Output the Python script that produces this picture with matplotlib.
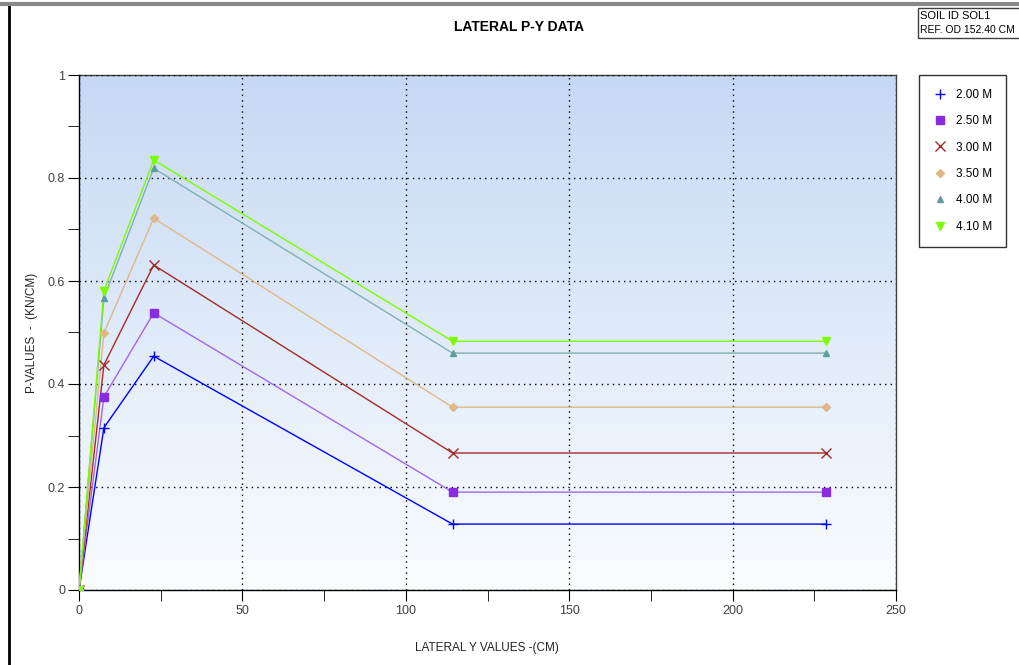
import numpy as np
import matplotlib
matplotlib.use("Agg")
import matplotlib.pyplot as plt
from matplotlib.lines import Line2D
from matplotlib.patches import Rectangle

plt.rcParams['font.family'] = ['Liberation Sans', 'DejaVu Sans']

# lateral displacement (cm) and p-values (kN/cm) per depth
y_cm = [0.0, 7.62, 22.86, 114.3, 228.6]
depths = ["2.00 M", "2.50 M", "3.00 M", "3.50 M", "4.00 M", "4.10 M"]
p_200 = [0.0, 0.315, 0.454, 0.128, 0.128]
p_250 = [0.0, 0.375, 0.538, 0.190, 0.190]
p_300 = [0.0, 0.437, 0.631, 0.266, 0.266]
p_350 = [0.0, 0.499, 0.722, 0.355, 0.355]
p_400 = [0.0, 0.567, 0.819, 0.460, 0.460]
p_410 = [0.0, 0.581, 0.835, 0.483, 0.483]
series = [p_200, p_250, p_300, p_350, p_400, p_410]

x_ticks = [0, 50, 100, 150, 200, 250]
y_ticks = [0, 0.2, 0.4, 0.6, 0.8, 1]
y_tick_labels = ["0", "0.2", "0.4", "0.6", "0.8", "1"]

# marker, marker colour, line colour, marker size
styles = [
    ("+", "#0000ff", "#0000ff", 7),
    ("s", "#8a2be2", "#a066e8", 6),
    ("x", "#a52a2a", "#a52a2a", 7),
    ("D", "#deb887", "#deb887", 4),
    ("^", "#5f9ea0", "#7fb0b2", 5),
    ("v", "#7cfc00", "#7cfc00", 6),
]

fig = plt.figure(figsize=(10.2, 6.65), dpi=100)
ax = fig.add_axes([79 / 1020, 75 / 665, 817 / 1020, 515 / 665])

# blue-to-white gradient background
grad = np.linspace(0, 1, 256).reshape(-1, 1)
top = np.array([0.776, 0.851, 0.957])
bot = np.array([0.98, 0.99, 1.0])
img = bot + (top - bot) * grad
ax.imshow(img[:, None, :].repeat(2, axis=1), extent=[0, 1, 0, 1], origin="lower",
          transform=ax.transAxes, aspect="auto", zorder=0)

for vals, (mk, mc, lc, ms) in zip(series, styles):
    ax.plot(y_cm, vals, color=lc, lw=1.0, zorder=3)
    ax.plot(y_cm, vals, ls="none", marker=mk, color=mc, ms=ms, mew=1.0, zorder=4)

ax.set_xlim(0, 250)
ax.set_ylim(0, 1)
ax.set_xticks(x_ticks)
ax.set_xticks(np.arange(25, 250, 50), minor=True)
ax.set_yticks(y_ticks)
ax.set_yticklabels(y_tick_labels)
ax.set_yticks(np.arange(0.1, 1.0, 0.2), minor=True)
ax.tick_params(which="major", direction="out", length=8, labelsize=9, labelcolor="#404040")
ax.tick_params(which="minor", direction="out", length=8)
ax.tick_params(axis="x", pad=3)
ax.tick_params(axis="y", pad=2)
ax.grid(True, which="major", color="black", ls=(0, (1, 3)), lw=1.0, zorder=1)
ax.set_axisbelow(False)
for s in ax.spines.values():
    s.set_linewidth(1.0)
ax.spines["top"].set_color("#404040")
ax.spines["right"].set_color("#404040")

ax.set_xlabel("LATERAL Y VALUES -(CM)", fontsize=8.5, color="#222222")
ax.xaxis.set_label_coords((487 - 79) / 817, (590 - 648) / 515)
ax.set_ylabel("P-VALUES  -  (KN/CM)", fontsize=8.5, color="#222222")
ax.yaxis.set_label_coords((32 - 79) / 817, (590 - 333) / 515)
ax.xaxis.label.set_va("center")
ax.yaxis.label.set_va("center")
fig.text(519 / 1020, 1 - 27 / 665, "LATERAL P-Y DATA", ha="center", va="center",
         fontsize=10, fontweight="bold")

# info box (clipped at the right edge like the original window)
fig.patches.append(Rectangle((918 / 1020, 1 - 38 / 665), 0.2, 30 / 665,
                             transform=fig.transFigure, fill=False, ec="#404040", lw=1))
fig.text(920 / 1020, 1 - 16 / 665, "SOIL ID SOL1", fontsize=8, va="center")
fig.text(920 / 1020, 1 - 30 / 665, "REF. OD 152.40 CM", fontsize=7.5, va="center")

# legend
handles = [Line2D([], [], ls="none", marker=mk, color=mc, ms=ms, mew=1.0)
           for mk, mc, lc, ms in styles]
leg = fig.legend(handles, depths, loc="upper left", bbox_to_anchor=(919 / 1020, 1 - 75 / 665),
                 borderaxespad=0, frameon=True, fancybox=False, fontsize=8.5,
                 labelspacing=1.22, handletextpad=0.8, borderpad=1.17, handlelength=1.2)
leg.get_frame().set_edgecolor("black")
leg.get_frame().set_linewidth(1.0)

# outer window frame
fig.add_artist(Line2D([9 / 1020, 9 / 1020], [0, 1 - 6 / 665], transform=fig.transFigure,
                      color="black", lw=2))
fig.add_artist(Line2D([0, 1], [1 - 4 / 665, 1 - 4 / 665], transform=fig.transFigure,
                      color="#888888", lw=3))

fig.savefig("out.png", dpi=100)
